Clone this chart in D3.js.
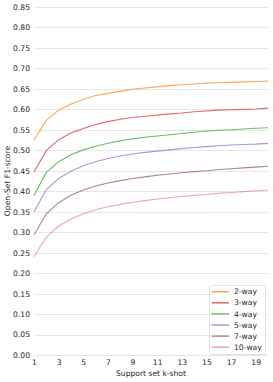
<!DOCTYPE html>
<html><head><meta charset="utf-8">
<script src="https://cdn.jsdelivr.net/npm/d3@7"></script>
<style>body{margin:0;background:#fff}svg{display:block}text{font-family:"DejaVu Sans",sans-serif}</style>
</head><body><svg id="c" width="273" height="382"></svg>
<script>
const kshot = d3.range(1, 21);
const seriesNames = ["2-way","3-way","4-way","5-way","7-way","10-way"];
const colors = ["#ff7f0e","#d62728","#2ca02c","#9467bd","#8c564b","#e377c2"];
const way2 = [0.525,0.573,0.598,0.613,0.624,0.634,0.639,0.644,0.649,0.652,0.655,0.658,0.660,0.662,0.664,0.665,0.666,0.667,0.668,0.669];
const way3 = [0.447,0.499,0.526,0.542,0.553,0.563,0.570,0.576,0.580,0.583,0.586,0.589,0.591,0.594,0.596,0.598,0.599,0.600,0.601,0.603];
const way4 = [0.390,0.446,0.472,0.489,0.501,0.510,0.517,0.523,0.528,0.532,0.535,0.538,0.541,0.544,0.547,0.549,0.550,0.552,0.554,0.555];
const way5 = [0.350,0.404,0.431,0.449,0.462,0.472,0.480,0.486,0.491,0.495,0.498,0.501,0.504,0.507,0.509,0.511,0.513,0.514,0.515,0.517];
const way7 = [0.293,0.345,0.372,0.390,0.403,0.413,0.420,0.426,0.431,0.435,0.439,0.442,0.445,0.448,0.450,0.453,0.455,0.457,0.459,0.461];
const way10 = [0.240,0.288,0.315,0.332,0.345,0.355,0.362,0.368,0.373,0.377,0.381,0.384,0.387,0.390,0.392,0.395,0.397,0.399,0.401,0.403];
const allSeries = [way2,way3,way4,way5,way7,way10];
const xTicks = [1,3,5,7,9,11,13,15,17,19];
const yTicks = d3.range(0, 0.851, 0.05);
const xLabel = "Support set k-shot";
const yLabel = "Open-Set F1-score";

const svg = d3.select("#c");
const x = d3.scaleLinear().domain([1,20]).range([34,268]);
const y = d3.scaleLinear().domain([0,0.85]).range([355,7]);
const fs = 7.6;

// grid
svg.append("g").selectAll("line").data(yTicks).join("line")
  .attr("x1", x(1)).attr("x2", x(20))
  .attr("y1", d=>Math.round(y(d))+0.5).attr("y2", d=>Math.round(y(d))+0.5)
  .attr("stroke","#e6e6e6").attr("stroke-width",1);

// y axis
const ya = svg.append("g").attr("transform","translate(34,0)")
  .call(d3.axisLeft(y).tickValues(yTicks).tickFormat(d3.format(".2f")).tickSize(0).tickPadding(4));
ya.select(".domain").remove();
ya.selectAll("text").attr("font-size",fs).attr("fill","#262626").attr("font-family","DejaVu Sans");

// x axis
const xa = svg.append("g").attr("transform","translate(0,355)")
  .call(d3.axisBottom(x).tickValues(xTicks).tickFormat(d3.format("d")).tickSize(0).tickPadding(5));
xa.select(".domain").remove();
xa.selectAll("text").attr("font-size",fs).attr("fill","#262626").attr("font-family","DejaVu Sans");

svg.append("text").attr("x", (x(1)+x(20))/2).attr("y", 376).attr("text-anchor","middle")
  .attr("font-size",fs).attr("fill","#262626").text(xLabel);
svg.append("text").attr("transform", `translate(10,${(y(0)+y(0.85))/2}) rotate(-90)`).attr("text-anchor","middle")
  .attr("font-size",fs).attr("fill","#262626").text(yLabel);

// lines
const line = d3.line().x((d,i)=>x(kshot[i])).y(d=>y(d));
allSeries.forEach((s,i)=>{
  svg.append("path").datum(s).attr("d",line).attr("fill","none")
    .attr("stroke",colors[i]).attr("stroke-opacity",0.7).attr("stroke-width",1.1);
});

// legend
const lg = svg.append("g");
lg.append("rect").attr("x",209.5).attr("y",285.5).attr("width",56).attr("height",69)
  .attr("rx",2).attr("fill","#fff").attr("fill-opacity",0.85).attr("stroke","#dddddd").attr("stroke-width",0.8);
seriesNames.forEach((n,i)=>{
  const yy = 291.7 + i*11.1;
  lg.append("line").attr("x1",211.5).attr("x2",229).attr("y1",yy).attr("y2",yy)
    .attr("stroke",colors[i]).attr("stroke-opacity",0.7).attr("stroke-width",1.5);
  lg.append("text").attr("x",234).attr("y",yy).attr("dy","0.35em")
    .attr("font-size",fs).attr("fill","#262626").text(n);
});
</script></body></html>
